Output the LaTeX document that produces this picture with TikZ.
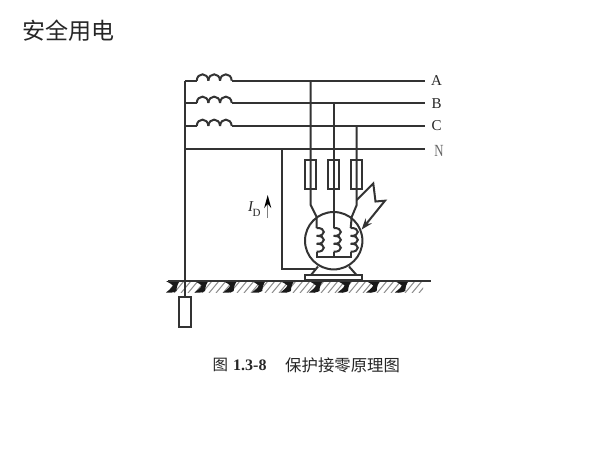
\documentclass[tikz,border=0pt]{standalone}
\usepackage{fontspec}
\setmainfont{Liberation Serif}
\newfontfamily\cjk{Noto Sans CJK SC}
\usetikzlibrary{arrows.meta}
\newcommand{\bumpsH}[2]{% three bumps along a horizontal wire
  \foreach \k in {0,1,2}{
    \draw[wire] ({#1+\k*11.67},#2) .. controls ({#1+\k*11.67+0.5},{#2-8.5}) and ({#1+(\k+1)*11.67-0.5},{#2-8.5}) .. ({#1+(\k+1)*11.67},#2);
  }}
\newcommand{\bumpsV}[2]{% three bumps along a vertical winding
  \foreach \k in {0,1,2}{
    \draw[wire] (#1,{#2+\k*7.9}) .. controls ({#1+9.5},{#2+\k*7.9-0.5}) and ({#1+9.5},{#2+(\k+1)*7.9+0.5}) .. (#1,{#2+(\k+1)*7.9});
  }}
\tikzset{
  wire/.style={line width=2pt,draw=black!80},
  fuse/.style={draw=black!80,line width=2pt,fill=none,minimum width=11.5pt,minimum height=29.5pt,inner sep=0pt,rectangle},
  rodbox/.style={draw=black!80,line width=2pt,fill=white,minimum width=11.7pt,minimum height=29.5pt,inner sep=0pt,rectangle},
  motorc/.style={draw=black!80,line width=2pt,circle,minimum size=57.4pt,inner sep=0pt},
  phase/.style={inner sep=0pt,font=\fontsize{15}{15}\selectfont,text=black!85},
  hatchline/.style={line width=1pt,draw=black!45}
}
\begin{document}
\begin{tikzpicture}[x=1pt,y=-1pt]
\useasboundingbox (0,0) rectangle (600,450);
\fill[white] (0,0) rectangle (600,450);
% labels
\node[anchor=center,inner sep=0pt,font=\cjk\fontsize{23}{23}\selectfont,text=black!85] (title) at (68,31) {安全用电};
\node[phase] (la) at (436.5,81) {A};
\node[phase] (lb) at (436.5,103.5) {B};
\node[phase] (lc) at (436.5,126) {C};
\node[phase,text=black!60,font=\fontsize{17}{17}\selectfont,xscale=0.75] (ln) at (439,150.5) {N};
% named points
\coordinate (topleft) at (185.3,80.7);
\coordinate (coilA) at (196.7,80.7);
\coordinate (coilAe) at (231.7,80.7);
\coordinate (endA) at (425,80.7);
\coordinate (leftB) at (185.3,103);
\coordinate (coilB) at (196.7,103);
\coordinate (coilBe) at (231.7,103);
\coordinate (endB) at (425,103);
\coordinate (leftC) at (185.3,126);
\coordinate (coilC) at (196.7,126);
\coordinate (coilCe) at (231.7,126);
\coordinate (endC) at (425,126);
\coordinate (leftN) at (185.3,149);
\coordinate (endN) at (425,149);
\coordinate (tapA) at (310.7,80.7);
\coordinate (tapB) at (333.7,103);
\coordinate (tapC) at (356.7,126);
\coordinate (tapN) at (282,149);
% fuses and rod
\node[fuse] (fa) at (310.7,174.6) {};
\node[fuse] (fb) at (333.7,174.6) {};
\node[fuse] (fc) at (356.5,174.6) {};
\node[motorc] (motor) at (333.7,240.7) {};
% ground hatching and blobs
\coordinate (gl) at (168,280.8);
\coordinate (gr) at (431,280.8);
\begin{scope}
\clip (170,281) rectangle (423,292);
\foreach \i in {0,...,40}{
  \draw[hatchline] ({160+\i*7},293) -- ({170+\i*7},281);
}
\end{scope}
\foreach \c in {173,201.6,230.2,258.8,287.4,316,344.6,373.2,401.8}{
  \fill[black!90] ({\c-7},281) .. controls ({\c-4},283) and ({\c-1},284) .. ({\c},285.5)
     .. controls ({\c-1},288) and ({\c-4},290) .. ({\c-7},292.5)
     .. controls ({\c-3},293) and ({\c+1},292.5) .. ({\c+3.5},291)
     .. controls ({\c+3.5},287) and ({\c+5},283) .. ({\c+7},281) -- cycle;
}
\draw[wire] (gl) -- (gr);
\node[rodbox] (rod) at (185.3,312) {};
% three-phase lines
\draw[wire] (topleft) -- (coilA);
\draw[wire] (coilAe) -- (endA);
\bumpsH{196.7}{80.7}
\draw[wire] (leftB) -- (coilB);
\draw[wire] (coilBe) -- (endB);
\bumpsH{196.7}{103}
\draw[wire] (leftC) -- (coilC);
\draw[wire] (coilCe) -- (endC);
\bumpsH{196.7}{126}
\draw[wire] (leftN) -- (endN);
\draw[wire] (topleft) -- (rod.north);
% motor feeds
\coordinate (wa) at (310.7,205);
\coordinate (wc) at (356.7,205);
\coordinate (ta) at (316.7,217);
\coordinate (tc) at (351.7,217);
\coordinate (ca) at (316.7,228);
\coordinate (cb) at (333.7,228);
\coordinate (cc) at (350.7,228);
\coordinate (ea) at (316.7,251.7);
\coordinate (eb) at (333.7,251.7);
\coordinate (ec) at (350.7,251.7);
\coordinate (ba) at (316.7,257);
\coordinate (bb) at (333.7,257);
\coordinate (bc) at (350.7,257);
\draw[wire] (tapA) -- (wa) -- (ta) -- (ca);
\draw[wire] (tapB) -- (cb);
\draw[wire] (tapC) -- (wc) -- (tc) -- (cc);
\bumpsV{316.7}{228}
\bumpsV{333.7}{228}
\bumpsV{350.7}{228}
\draw[wire] (ea) -- (ba) -- (bc) -- (ec);
\draw[wire] (eb) -- (bb);
% protective neutral connection
\coordinate (pnb) at (282,269);
\coordinate (pne) at (314.5,269);
\draw[wire] (tapN) -- (pnb) -- (pne);
% base and feet
\node[draw=black!80,line width=2pt,minimum width=57.3pt,minimum height=5.5pt,inner sep=0pt,rectangle] (base) at (333.7,277.6) {};
\draw[wire] (318,266.5) -- (311,275);
\draw[wire] (349,266.5) -- (356.5,275);
% lightning fault arrow
\coordinate (z0) at (356.7,200);
\coordinate (z1) at (373.3,183.5);
\coordinate (z2) at (375.5,201.5);
\coordinate (z3) at (385,200.7);
\coordinate (z4) at (361.7,229.5);
\draw[wire,-{Stealth[length=11pt,width=8pt]}] (z0) -- (z1) -- (z2) -- (z3) -- (z4);
% current
\coordinate (id0) at (267.7,218);
\coordinate (id1) at (267.7,195);
\draw[line width=1.5pt,draw=black!50,-{Stealth[length=13pt,width=7pt,black]}] (id0) -- (id1);
\node[inner sep=0pt,font=\fontsize{15}{15}\selectfont\itshape,text=black!85] (ilabel) at (250.5,207) {I};
\node[inner sep=0pt,font=\fontsize{11}{11}\selectfont,text=black!85] (dlabel) at (256.5,213) {D};
% caption
\node[inner sep=0pt,anchor=west,font=\cjk\fontsize{15.5}{15.5}\selectfont,text=black!85] (cap1) at (212.5,365) {图};
\node[inner sep=0pt,anchor=west,font=\bfseries\fontsize{16}{16}\selectfont,text=black!85] (cap2) at (233,365) {1.3-8};
\node[inner sep=0pt,anchor=west,font=\cjk\fontsize{16.4}{16.4}\selectfont,text=black!85] (cap3) at (285,365) {保护接零原理图};
\end{tikzpicture}
\end{document}
